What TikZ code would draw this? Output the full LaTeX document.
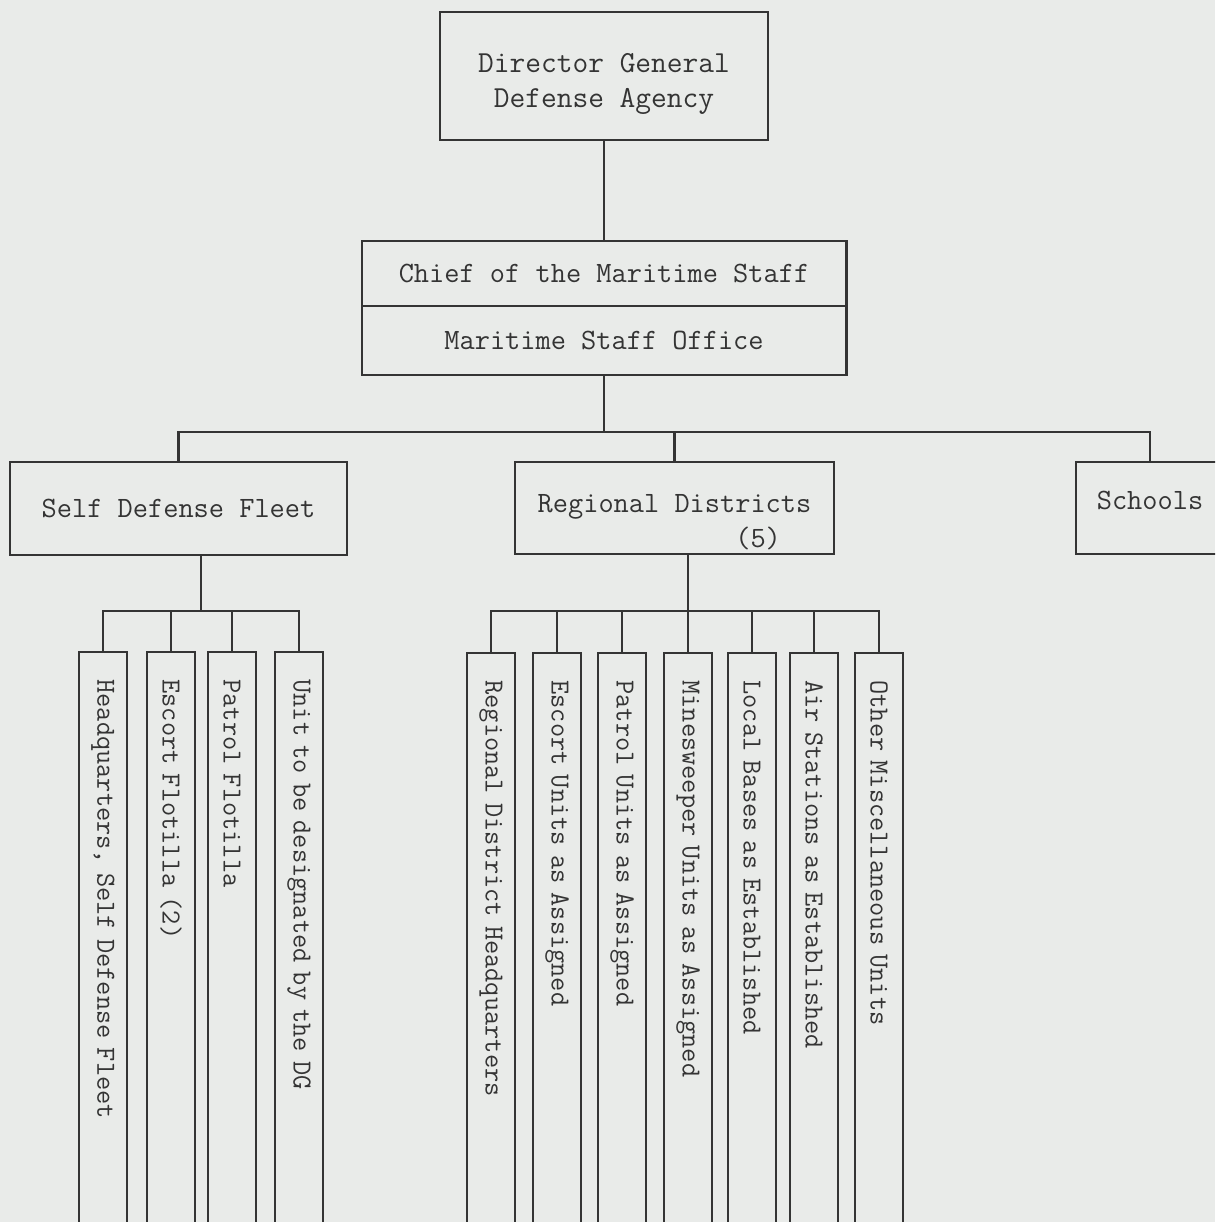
\documentclass[tikz,border=0pt]{standalone}
\usepackage{fontspec}
\usetikzlibrary{positioning}
\definecolor{paper}{RGB}{233,235,233}
\definecolor{ink}{RGB}{52,52,52}
\tikzset{%
	box/.style={draw=ink, line width=1.2pt, outer sep=0pt, inner sep=0pt, text=ink, font=\ttfamily\fontsize{16.8}{19.8}\selectfont},
	unit/.style={draw=ink, line width=1.2pt, outer sep=0pt, rotate=-90, anchor=west, minimum height=0.96cm, text width=11cm, inner xsep=0.55cm, inner ysep=0pt, align=left, text=ink, font=\ttfamily\fontsize{15.7}{18}\selectfont},
	ln/.style={draw=ink, line width=1.2pt}
}
\newcommand{\lowered}[3]{\raisebox{#1}[0pt][0pt]{\begin{tabular}{@{}#2@{}}#3\end{tabular}}}

\begin{document}
\begin{tikzpicture}[x=0.02cm, y=-0.02cm]
		\clip (0,0) rectangle (1215,1222);
		\fill[paper] (0,0) rectangle (1215,1222);
		
		\node[box, minimum width=6.56cm, minimum height=2.56cm, font=\ttfamily\fontsize{17.4}{19.8}\selectfont] (dg) at (604,76) {\lowered{-0.30cm}{c}{Director General\\Defense Agency}};
		\node[box, minimum width=9.7cm, minimum height=1.3cm] (cms) at (604,273.5) {Chief of the Maritime Staff};
		\node[box, minimum width=9.7cm, minimum height=1.38cm] (mso) [below=0pt of cms] {Maritime Staff Office};
		
		\node[box, minimum width=6.74cm, minimum height=1.86cm] (sdf) at (178.5,508.5) {Self Defense Fleet};
		\node[box, minimum width=6.38cm, minimum height=1.84cm] (rd) at (674.5,508) {\lowered{-0.46cm}{l}{Regional Districts\\\phantom{Regional Dist}(5)}};
		\node[box, minimum width=2.96cm, minimum height=1.84cm] (sch) at (1150,508) {\raisebox{0.3cm}{Schools}};
		
		\node[unit] (hq) at (103,652) {Headquarters, Self Defense Fleet};
		\node[unit] (esc) at (171,652) {Escort Flotilla (2)};
		\node[unit] (pat) at (232,652) {Patrol Flotilla};
		\node[unit] (des) at (299,652) {Unit to be designated by the DG};
		
		\node[unit] (rdhq) at (491,653) {Regional District Headquarters};
		\node[unit] (escu) at (557,653) {Escort Units as Assigned};
		\node[unit] (patu) at (622,653) {Patrol Units as Assigned};
		\node[unit] (mine) at (688,653) {Minesweeper Units as Assigned};
		\node[unit] (base) at (752,653) {Local Bases as Established};
		\node[unit] (air) at (814,653) {Air Stations as Established};
		\node[unit] (misc) at (879,653) {Other Miscellaneous Units};
		
		% top of the chart
		\coordinate (bus) at (604,432);
		\draw[ln] (dg.south) -- (cms.north);
		\draw[ln] (mso.south) -- (bus);
		\draw[ln] (sdf.north) |- (bus) -| (sch.north);
		\draw[ln] (rd.north) -- (rd.north |- bus);
		
		% fleet
		\coordinate (fbus) at (201,611);
		\draw[ln] (fbus |- sdf.south) -- (fbus);
		\draw[ln] (hq.west) |- (fbus) -| (des.west);
		\draw[ln] (esc.west) -- (esc.west |- fbus);
		\draw[ln] (pat.west) -- (pat.west |- fbus);
		
		% districts
		\coordinate (rbus) at (688,611);
		\draw[ln] (rbus |- rd.south) -- (rbus);
		\draw[ln] (rdhq.west) |- (rbus) -| (misc.west);
		\draw[ln] (escu.west) -- (escu.west |- rbus);
		\draw[ln] (patu.west) -- (patu.west |- rbus);
		\draw[ln] (mine.west) -- (mine.west |- rbus);
		\draw[ln] (base.west) -- (base.west |- rbus);
		\draw[ln] (air.west) -- (air.west |- rbus);
	\end{tikzpicture}
\end{document}
